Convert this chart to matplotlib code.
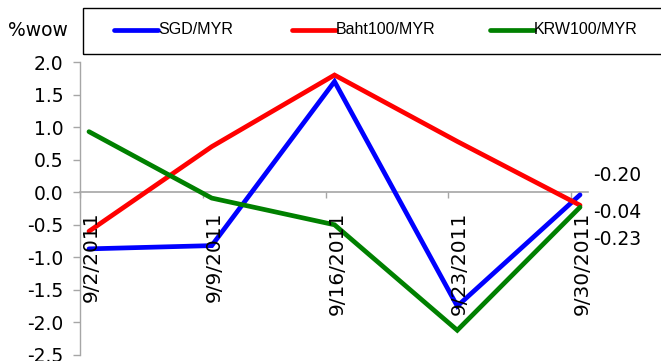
import matplotlib
matplotlib.use("Agg")
import matplotlib.pyplot as plt
from matplotlib import font_manager
from matplotlib.lines import Line2D
from matplotlib.patches import Rectangle

# Weekly % change vs MYR
dates = ["9/2/2011", "9/9/2011", "9/16/2011", "9/23/2011", "9/30/2011"]
sgd_myr = [-0.87, -0.82, 1.70, -1.75, -0.04]
baht100_myr = [-0.60, 0.70, 1.80, 0.78, -0.20]
krw100_myr = [0.93, -0.09, -0.50, -2.12, -0.23]
series_names = ["SGD/MYR", "Baht100/MYR", "KRW100/MYR"]
series_colors = ["#0000ff", "#ff0000", "#008000"]
yticks = [-2.5, -2.0, -1.5, -1.0, -0.5, 0.0, 0.5, 1.0, 1.5, 2.0]

plt.rcParams["font.family"] = ["DejaVu Sans"]
plt.rcParams["axes.unicode_minus"] = False

# narrow face for the legend if it is installed
try:
    font_manager.findfont(font_manager.FontProperties(family="Liberation Sans Narrow"),
                          fallback_to_default=False)
    leg_family, leg_size = ["Liberation Sans Narrow", "DejaVu Sans"], 14
except Exception:
    leg_family, leg_size = ["Liberation Sans", "DejaVu Sans"], 11.5

W, H = 661, 361
fig = plt.figure(figsize=(W / 100, H / 100), dpi=100)
ax = fig.add_axes([80 / W, (H - 355) / H, (588 - 80) / W, (355 - 62) / H])

x = list(range(len(dates)))
lines = []
for vals, name, col in zip([sgd_myr, baht100_myr, krw100_myr], series_names, series_colors):
    ln, = ax.plot(x, vals, color=col, lw=3.4, solid_capstyle="round",
                  solid_joinstyle="miter", label=name, zorder=3)
    lines.append(ln)

ax.set_xlim(-0.0733, 4.065)
ax.set_ylim(-2.5, 2.0)

# axes styling: gray y spine on the left, x axis drawn along zero
axis_gray = "#a6a6a6"
for s in ["top", "right"]:
    ax.spines[s].set_visible(False)
ax.spines["left"].set_color(axis_gray)
ax.spines["left"].set_linewidth(1.0)
ax.spines["bottom"].set_position(("data", 0))
ax.spines["bottom"].set_color(axis_gray)
ax.spines["bottom"].set_linewidth(1.2)

ax.set_yticks(yticks)
ax.set_yticklabels([f"{v:.1f}" for v in yticks])
ax.tick_params(axis="y", direction="out", length=5, width=1, color=axis_gray,
               pad=7, labelsize=13.5)

# category tick marks sit slightly left of the data points
ax.set_xticks([i - 0.0733 for i in x])
ax.set_xticklabels([])
ax.tick_params(axis="x", direction="out", length=4, width=1, color=axis_gray)

for i, d in zip(x, dates):
    ax.annotate(d, xy=(i + 0.02, 0), xytext=(0, -14), textcoords="offset points",
                rotation=90, ha="center", va="top", fontsize=14.5, annotation_clip=False)

# latest values stacked at the right end
end_vals = [baht100_myr[-1], sgd_myr[-1], krw100_myr[-1]]
end_label_y = [0.26, -0.31, -0.72]
for v, yy in zip(end_vals, end_label_y):
    ax.text(4.106, yy, f"{v:.2f}", ha="left", va="center", fontsize=13.5, clip_on=False)

# header: unit label and boxed legend
fig.text(8 / W, 1 - 30 / H, "%wow", ha="left", va="center", fontsize=13.5)
fig.add_artist(Rectangle((83 / W, 1 - 54 / H), 620 / W, 46 / H, transform=fig.transFigure,
                         fill=False, edgecolor="black", lw=1.0))
leg_x = [114, 292, 490]
for ln, lx in zip(lines, leg_x):
    fig.add_artist(Line2D([lx / W, (lx + 44) / W], [1 - 30 / H, 1 - 30 / H],
                          transform=fig.transFigure, color=ln.get_color(), lw=3.4,
                          solid_capstyle="round"))
    fig.text((lx + 44) / W, 1 - 30 / H, ln.get_label(), ha="left", va="center",
             fontsize=leg_size, family=leg_family)

fig.savefig("out.png", dpi=100)
